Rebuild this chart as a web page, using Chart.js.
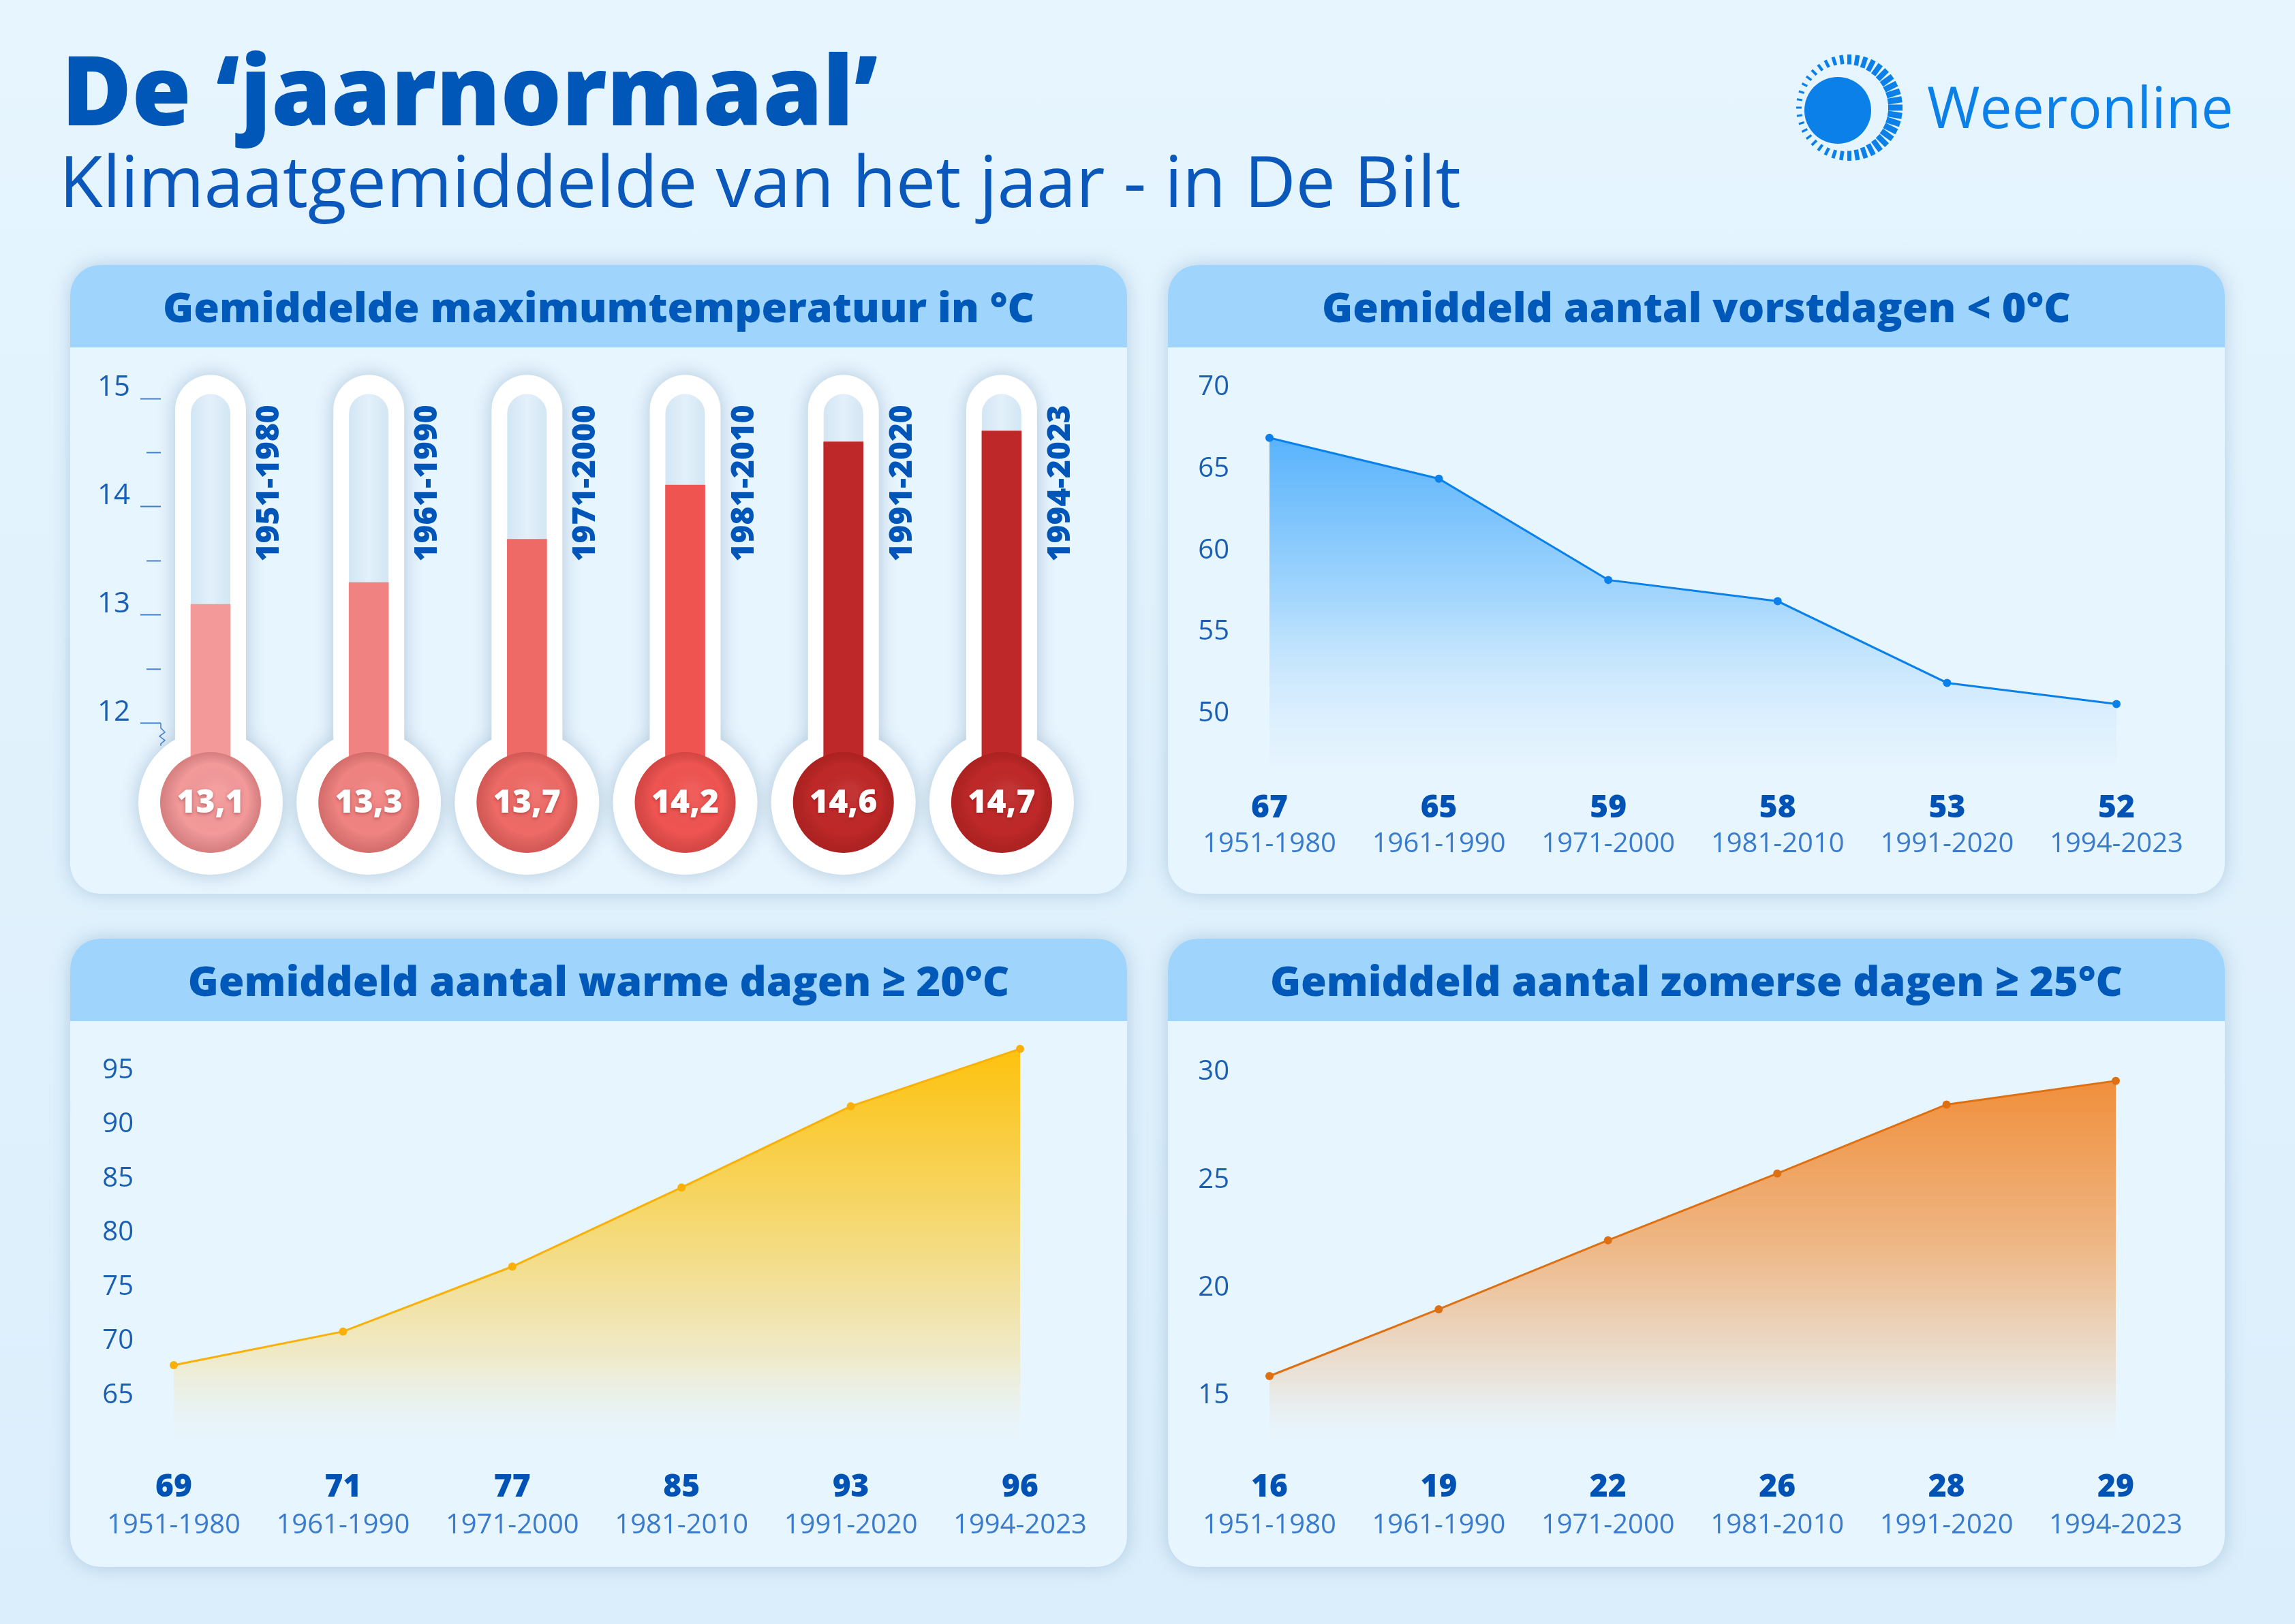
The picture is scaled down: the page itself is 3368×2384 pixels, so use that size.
<!DOCTYPE html>
<html lang="nl">
<head>
<meta charset="utf-8">
<title>De jaarnormaal</title>
<script src="https://cdn.jsdelivr.net/npm/chart.js@4.4.1/dist/chart.umd.min.js"></script>
<style>
  html, body { margin: 0; padding: 0; }
  body {
    width: 3368px; height: 2384px; position: relative; overflow: hidden;
    background: linear-gradient(180deg, #e6f5fe 0%, #dbeefb 100%);
    font-family: 'Open Sans', sans-serif;
  }
  .title { position: absolute; left: 90px; top: 59px; font-size: 141px; line-height: 141px; font-weight: 800; color: #0057b8; white-space: nowrap; }
  .subtitle { position: absolute; left: 87px; top: 212px; font-size: 104px; line-height: 104px; color: #0a58bb; white-space: nowrap; }
  .brand { position: absolute; left: 2828px; top: 114px; font-size: 84px; line-height: 84px; color: #0a80e8; white-space: nowrap; }
  #sun { position: absolute; left: 2610px; top: 70px; }
  .panel {
    position: absolute; width: 1551px; border-radius: 44px; background: #e7f5fe;
    box-shadow: 0 0 28px rgba(100, 145, 185, 0.38); overflow: hidden;
  }
  .panel .head {
    height: 121px; background: #9fd4fc; color: #0058b8; font-weight: 800; font-size: 61px;
    display: flex; align-items: center; justify-content: center; white-space: nowrap;
  }
  canvas.chart { position: absolute; }
</style>
</head>
<body>
<div class="title">De ‘jaarnormaal’</div>
<div class="subtitle">Klimaatgemiddelde van het jaar - in De Bilt</div>
<canvas id="sun" width="200" height="180"></canvas>
<div class="brand">Weeronline</div>

<div class="panel" style="left:103px; top:389px; height:923px;"><div class="head">Gemiddelde maximumtemperatuur in °C</div></div>
<div class="panel" style="left:1714px; top:389px; height:923px;"><div class="head">Gemiddeld aantal vorstdagen &lt; 0°C</div></div>
<div class="panel" style="left:103px; top:1378px; height:922px;"><div class="head">Gemiddeld aantal warme dagen ≥ 20°C</div></div>
<div class="panel" style="left:1714px; top:1378px; height:922px;"><div class="head">Gemiddeld aantal zomerse dagen ≥ 25°C</div></div>

<canvas class="chart" id="cTemp" width="1551" height="802" style="left:103px; top:510px;"></canvas>
<canvas class="chart" id="cFrost" width="1551" height="802" style="left:1714px; top:510px;"></canvas>
<canvas class="chart" id="cWarm" width="1551" height="800" style="left:103px; top:1500px;"></canvas>
<canvas class="chart" id="cSummer" width="1551" height="800" style="left:1714px; top:1500px;"></canvas>

<script>
// DATA
const periods = ["1951-1980", "1961-1990", "1971-2000", "1981-2010", "1991-2020", "1994-2023"];

const maxTemp = [13.1, 13.3, 13.7, 14.2, 14.6, 14.7];
const tempTicks = [12, 13, 14, 15];
const tempMinorTicks = [12.5, 13.5, 14.5];

// printed numbers under each chart, and where the line actually sits in the picture
const frostDays = [67, 65, 59, 58, 53, 52];
const frostLine = [66.9, 64.4, 58.2, 56.9, 51.9, 50.6];
const frostTicks = [50, 55, 60, 65, 70];

const warmDays = [69, 71, 77, 85, 93, 96];
const warmLine = [67.8, 70.9, 76.9, 84.2, 91.7, 97.0];
const warmTicks = [65, 70, 75, 80, 85, 90, 95];

const summerDays = [16, 19, 22, 26, 28, 29];
const summerLine = [15.9, 19.0, 22.2, 25.3, 28.5, 29.6];
const summerTicks = [15, 20, 25, 30];

const tempColors = ["#f3999a", "#f08381", "#ee6a66", "#ef5451", "#bf2828", "#bf2828"];

Chart.defaults.font.family = "'Open Sans', sans-serif";

const fmt = v => v.toFixed(1).replace(".", ",");

// LOGO
(function drawSun() {
  const c = document.getElementById("sun").getContext("2d");
  c.fillStyle = "#0a80e8";
  c.beginPath();
  c.arc(87, 92, 49, 0, Math.PI * 2);
  c.fill();
  c.strokeStyle = "#0a80e8";
  const n = 40;
  for (let i = 0; i < n; i++) {
    const a = (i / n) * Math.PI * 2;
    const w = (1 + Math.cos(a)) / 2;
    const len = 8 + 13 * w;
    const r2 = 78, r1 = r2 - len;
    c.lineWidth = 3 + 6 * w;
    c.beginPath();
    c.moveTo(104 + Math.cos(a) * r1, 88 + Math.sin(a) * r1);
    c.lineTo(104 + Math.cos(a) * r2, 88 + Math.sin(a) * r2);
    c.stroke();
  }
})();

// THERMOMETERS
const thermoPlugin = {
  id: "thermo",
  beforeDatasetsDraw(chart) {
    const { ctx, scales: { x }, chartArea } = chart;
    const bulbY = chartArea.bottom;
    const top = chartArea.top;
    maxTemp.forEach((v, i) => {
      const cx = x.getPixelForValue(i);
      ctx.save();
      ctx.shadowColor = "rgba(60, 100, 140, 0.32)";
      ctx.shadowBlur = 28;
      ctx.fillStyle = "#ffffff";
      ctx.beginPath();
      ctx.moveTo(cx - 52, bulbY);
      ctx.lineTo(cx - 52, top + 52);
      ctx.arc(cx, top + 52, 52, Math.PI, 0);
      ctx.lineTo(cx + 52, bulbY);
      ctx.closePath();
      ctx.moveTo(cx + 106, bulbY);
      ctx.arc(cx, bulbY, 106, 0, Math.PI * 2);
      ctx.fill();
      ctx.restore();

      const g = ctx.createLinearGradient(cx - 29, 0, cx + 29, 0);
      g.addColorStop(0, "#d3e6f4");
      g.addColorStop(0.5, "#e2f0fa");
      g.addColorStop(1, "#d3e6f4");
      ctx.fillStyle = g;
      ctx.beginPath();
      ctx.moveTo(cx - 29, bulbY);
      ctx.lineTo(cx - 29, top + 57);
      ctx.arc(cx, top + 57, 29, Math.PI, 0);
      ctx.lineTo(cx + 29, bulbY);
      ctx.closePath();
      ctx.fill();
    });
  },
  afterDatasetsDraw(chart) {
    const { ctx, scales: { x }, chartArea } = chart;
    const bulbY = chartArea.bottom;
    maxTemp.forEach((v, i) => {
      const cx = x.getPixelForValue(i);
      ctx.save();
      ctx.fillStyle = tempColors[i];
      ctx.beginPath();
      ctx.arc(cx, bulbY, 74, 0, Math.PI * 2);
      ctx.fill();
      const rg = ctx.createRadialGradient(cx + 10, bulbY - 15, 10, cx, bulbY, 74);
      rg.addColorStop(0, "rgba(255,255,255,0.06)");
      rg.addColorStop(0.65, "rgba(0,0,0,0)");
      rg.addColorStop(1, "rgba(90,0,0,0.18)");
      ctx.fillStyle = rg;
      ctx.fill();

      ctx.shadowColor = "rgba(80,0,0,0.35)";
      ctx.shadowBlur = 5;
      ctx.shadowOffsetY = 2;
      ctx.fillStyle = "#ffffff";
      ctx.font = "800 48px 'Open Sans'";
      ctx.textAlign = "center";
      ctx.textBaseline = "alphabetic";
      ctx.fillText(fmt(v), cx, bulbY + 15);
      ctx.restore();

      // period, written upwards next to the tube
      ctx.save();
      ctx.translate(cx + 100, chartArea.top + 44);
      ctx.rotate(-Math.PI / 2);
      ctx.fillStyle = "#0055b8";
      ctx.font = "800 46px 'Open Sans'";
      ctx.textAlign = "right";
      ctx.textBaseline = "alphabetic";
      ctx.fillText(periods[i], 0, 0);
      ctx.restore();
    });
  },
  afterDraw(chart) {
    const { ctx, scales: { y } } = chart;
    const ax = y.right;
    ctx.save();
    ctx.strokeStyle = "#3f7fd0";
    ctx.lineWidth = 2;
    tempMinorTicks.forEach(v => {
      const py = y.getPixelForValue(v);
      ctx.beginPath();
      ctx.moveTo(ax - 21, py);
      ctx.lineTo(ax, py);
      ctx.stroke();
    });
    // axis break below 12
    const p12 = y.getPixelForValue(tempTicks[0]);
    ctx.lineWidth = 1.5;
    ctx.beginPath();
    ctx.moveTo(ax, p12);
    ctx.lineTo(ax, p12 + 7);
    ctx.lineTo(ax + 6, p12 + 13);
    ctx.lineTo(ax - 2, p12 + 19);
    ctx.lineTo(ax + 6, p12 + 25);
    ctx.lineTo(ax, p12 + 30);
    ctx.lineTo(ax, p12 + 33);
    ctx.stroke();
    ctx.restore();
  }
};

new Chart(document.getElementById("cTemp"), {
  type: "bar",
  data: {
    datasets: [{
      data: maxTemp.map((v, i) => ({ x: i, y: v })),
      backgroundColor: tempColors,
      barThickness: 58,
      borderWidth: 0
    }]
  },
  options: {
    responsive: false,
    animation: false,
    devicePixelRatio: 1,
    layout: { padding: { left: 0, top: 40, right: 68, bottom: 134 } },
    plugins: { legend: { display: false }, tooltip: { enabled: false } },
    scales: {
      x: { type: "linear", display: false, offset: false, min: -0.3144, max: 5.5 },
      y: {
        min: 11.269,
        max: 15.219,
        afterBuildTicks: s => { s.ticks = tempTicks.map(v => ({ value: v })); },
        border: { display: false },
        grid: { drawOnChartArea: false, drawTicks: true, tickLength: 30, tickColor: "#3f7fd0", tickWidth: 2 },
        ticks: { padding: 15, labelOffset: -16, color: "#1a5fb4", font: { size: 42 } },
        afterFit: s => { s.width = 133; }
      }
    }
  },
  plugins: [thermoPlugin]
});

// AREA LINES
function gradientFill(stops) {
  return (c) => {
    const area = c.chart.chartArea;
    if (!area) return stops[0][1];
    const g = c.chart.ctx.createLinearGradient(0, area.top, 0, area.bottom);
    stops.forEach(([s, col]) => g.addColorStop(s, col));
    return g;
  };
}

function areaChart(id, cfg) {
  const canvas = document.getElementById(id);
  const ox = cfg.origin[0], oy = cfg.origin[1];
  const chartBottom = cfg.bottom;
  const h1 = 90;  // labels are clipped to their axis box, keep it tall enough
  const h2 = canvas.height - (chartBottom - oy) - h1;
  const valuePad = (cfg.valueBase - chartBottom) - 0.988 * 46;
  const periodPad = (cfg.periodBase - chartBottom - h1) - 0.988 * 40;

  new Chart(canvas, {
    type: "line",
    data: {
      labels: periods,
      datasets: [{
        data: cfg.line,
        xAxisID: "x",
        borderColor: cfg.color,
        borderWidth: 3,
        pointRadius: 6,
        pointHoverRadius: 6,
        pointBackgroundColor: cfg.color,
        pointBorderWidth: 0,
        tension: 0,
        fill: "start",
        backgroundColor: gradientFill(cfg.fill)
      }]
    },
    options: {
      responsive: false,
      animation: false,
      devicePixelRatio: 1,
      layout: { padding: { left: 0, top: cfg.top - oy, right: ox + canvas.width - cfg.right, bottom: 0 } },
      plugins: { legend: { display: false }, tooltip: { enabled: false } },
      scales: {
        x: {
          type: "category",
          labels: cfg.printed.map(String),
          offset: false,
          grid: { display: false },
          border: { display: false },
          ticks: { autoSkip: false, maxRotation: 0, padding: valuePad, color: "#0052b4", font: { size: 46, weight: 800 } },
          afterFit: s => { s.height = h1; }
        },
        x2: {
          type: "category",
          position: "bottom",
          labels: periods,
          offset: false,
          grid: { display: false },
          border: { display: false },
          ticks: { autoSkip: false, maxRotation: 0, padding: periodPad, color: "#3b7bcb", font: { size: 40 } },
          afterFit: s => { s.height = h2; }
        },
        y: {
          min: cfg.min,
          max: cfg.max,
          afterBuildTicks: s => { s.ticks = cfg.ticks.map(v => ({ value: v })); },
          // invisible tick marks give the gap between labels and plot
          grid: { display: true, drawOnChartArea: false, drawTicks: true, tickLength: 55, tickColor: "rgba(0,0,0,0)" },
          border: { display: false },
          ticks: { padding: 4, color: "#1a5fb4", font: { size: 40 } },
          afterFit: s => { s.width = cfg.left - ox; }
        }
      }
    }
  });
}

areaChart("cFrost", {
  origin: [1714, 510], left: 1863, right: 3106, top: 539.7, bottom: 1124.7,
  min: 46.8, max: 71.2, ticks: frostTicks, line: frostLine, printed: frostDays,
  valueBase: 1197, periodBase: 1247,
  color: "#0a80ea",
  fill: [[0, "#3ea6fb"], [0.2, "#5db5fc"], [0.6, "#a8d8fd"], [1, "rgba(225,241,254,0.3)"]]
});

areaChart("cWarm", {
  origin: [103, 1500], left: 255, right: 1497, top: 1530.1, bottom: 2112.1,
  min: 61, max: 97.6, ticks: warmTicks, line: warmLine, printed: warmDays,
  valueBase: 2194, periodBase: 2247,
  color: "#fbb007",
  fill: [[0, "#fec10a"], [0.45, "#f5d870"], [0.8, "#efeacb"], [1, "rgba(232,244,252,0.4)"]]
});

areaChart("cSummer", {
  origin: [1714, 1500], left: 1863, right: 3105, top: 1529.7, bottom: 2114.9,
  min: 12.9, max: 31.4, ticks: summerTicks, line: summerLine, printed: summerDays,
  valueBase: 2194, periodBase: 2247,
  color: "#de7012",
  fill: [[0, "#f1852a"], [0.5, "#eeb683"], [0.85, "#e9e4dc"], [1, "rgba(232,244,252,0.4)"]]
});
</script>
</body>
</html>
